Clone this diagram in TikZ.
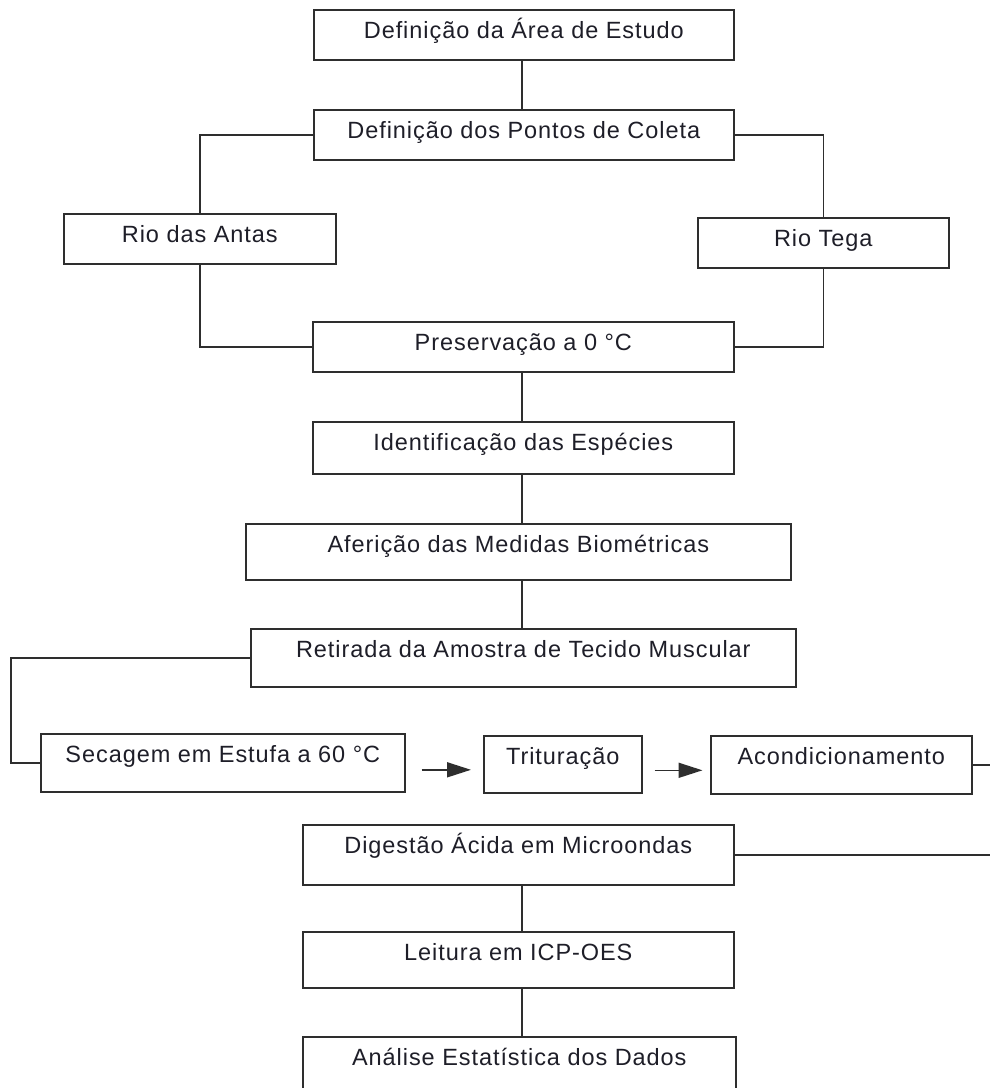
\documentclass[tikz,border=0pt]{standalone}
\usepackage{fontspec}
\usetikzlibrary{arrows.meta,calc}
\newfontfamily\boxfont{Liberation Sans}[LetterSpace=4]
\definecolor{linec}{HTML}{2E2E2E}
\definecolor{textc}{HTML}{1E1E28}
\begin{document}
\begin{tikzpicture}[x=1pt,y=-1pt,
  bx/.style={draw=linec, line width=1.6pt, rectangle, inner sep=0pt, anchor=north west,
    text=textc, font={\boxfont\fontsize{23.5pt}{28pt}\selectfont}, text height=29pt},
  ln/.style={draw=linec, line width=1.6pt},
  arr/.style={ln, -{Triangle[length=24pt,width=15pt]}}
]
\useasboundingbox (0,0) rectangle (989,1088);
\fill[white] (0,0) rectangle (989,1088);

\node[bx, minimum width=420pt, minimum height=50pt, text depth=21pt] (b1) at (313,9) {Definição da Área de Estudo};
\node[bx, minimum width=420pt, minimum height=50pt, text depth=21pt] (b2) at (313,109) {Definição dos Pontos de Coleta};
\node[bx, minimum width=272pt, minimum height=50pt, text depth=21pt] (ra) at (63,213) {Rio das Antas};
\node[bx, minimum width=251pt, minimum height=50pt, text depth=21pt] (rt) at (697,217) {Rio Tega};
\node[bx, minimum width=421pt, minimum height=50pt, text depth=21pt] (pr) at (312,321) {Preservação a 0 °C};
\node[bx, minimum width=421pt, minimum height=52pt, text depth=23pt] (id) at (312,421) {Identificação das Espécies};
\node[bx, minimum width=545pt, minimum height=56pt, text depth=27pt] (af) at (245,523) {Aferição das Medidas Biométricas};
\node[bx, minimum width=545pt, minimum height=58pt, text depth=29pt] (re) at (250,628) {Retirada da Amostra de Tecido Muscular};
\node[bx, minimum width=364pt, minimum height=58pt, text depth=29pt] (se) at (40,733) {Secagem em Estufa a 60 °C};
\node[bx, minimum width=158pt, minimum height=57pt, text depth=28pt] (tr) at (483,735) {Trituração};
\node[bx, minimum width=261pt, minimum height=58pt, text depth=29pt] (ac) at (710,735) {Acondicionamento};
\node[bx, minimum width=431pt, minimum height=60pt, text depth=31pt] (di) at (302,824) {Digestão Ácida em Microondas};
\node[bx, minimum width=431pt, minimum height=56pt, text depth=27pt] (le) at (302,931) {Leitura em ICP-OES};
\node[bx, minimum width=433pt, minimum height=56pt, text depth=27pt] (an) at (302,1036) {Análise Estatística dos Dados};

\coordinate (lx) at (11,700);
\coordinate (rx) at (992,800);
\coordinate (cx) at (522,0);

\draw[ln] (b1.south -| cx) -- (b2.north -| cx);
\draw[ln] (b2.west) -| (ra.north);
\draw[ln] (b2.east) -| (rt.north);
\draw[ln] (ra.south) |- (pr.west);
\draw[ln] (rt.south) |- (pr.east);
\draw[ln] (pr.south -| cx) -- (id.north -| cx);
\draw[ln] (id.south -| cx) -- (af.north -| cx);
\draw[ln] (af.south -| cx) -- (re.north -| cx);
\draw[ln] (re.west) -| (lx) |- (se.west);
\draw[arr, shorten <=16pt, shorten >=12pt] ([yshift=-7pt]se.east) -- ([yshift=-7pt]se.east -| tr.west);
\draw[arr, shorten <=12pt, shorten >=7.5pt] ([yshift=-6pt]tr.east) -- ([yshift=-6pt]tr.east -| ac.west);
\draw[ln] (ac.east) -| (rx) |- (di.east);
\draw[ln] (di.south -| cx) -- (le.north -| cx);
\draw[ln] (le.south -| cx) -- (an.north -| cx);
\end{tikzpicture}
\end{document}
